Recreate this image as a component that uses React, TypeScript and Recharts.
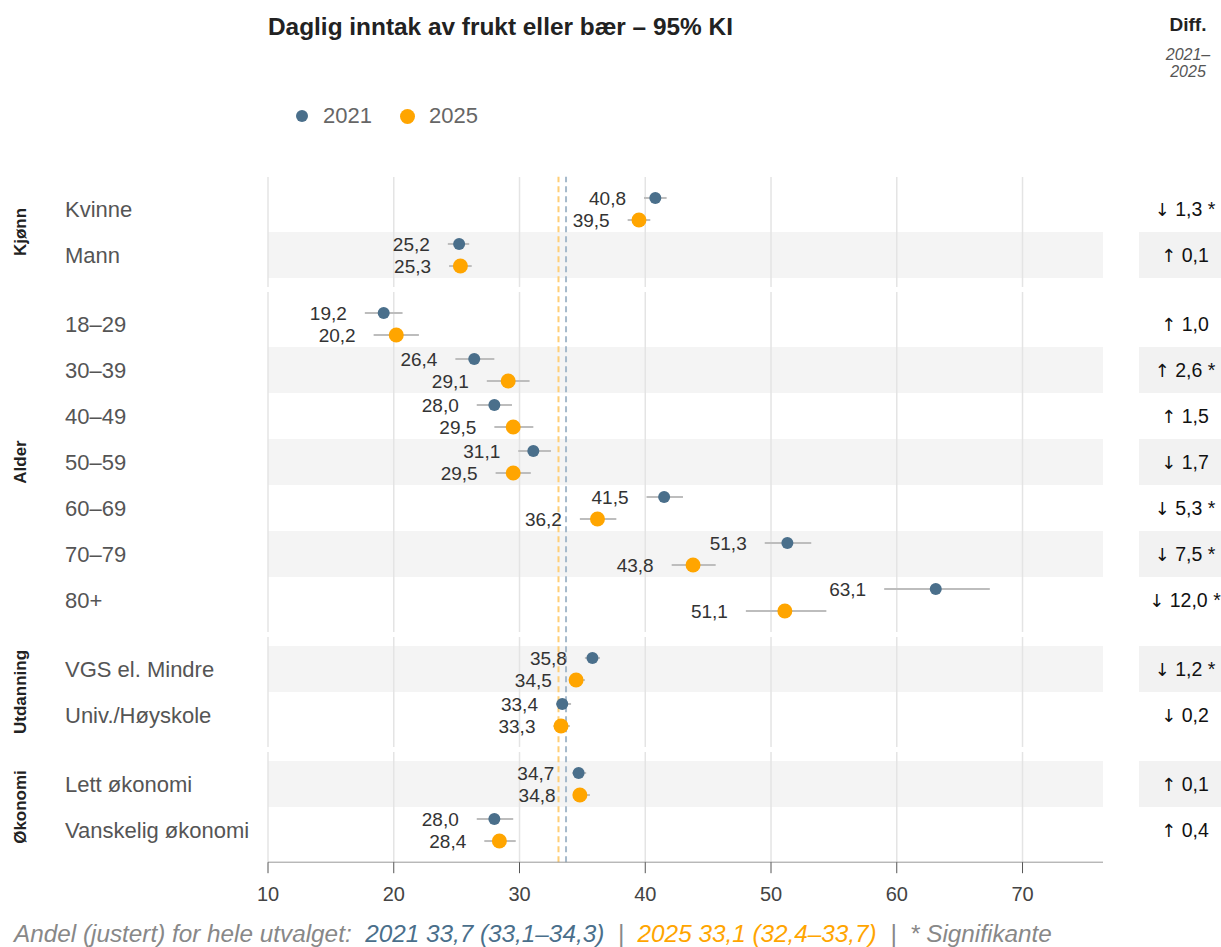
import React from 'react';
import {
  ScatterChart,
  Scatter,
  XAxis,
  YAxis,
  ErrorBar,
  ReferenceArea,
  ReferenceLine,
} from 'recharts';

const categories = [
  'Kvinne', 'Mann',
  '18–29', '30–39', '40–49', '50–59', '60–69', '70–79', '80+',
  'VGS el. Mindre', 'Univ./Høyskole',
  'Lett økonomi', 'Vanskelig økonomi',
];
const groups = [
  'Kjønn', 'Kjønn',
  'Alder', 'Alder', 'Alder', 'Alder', 'Alder', 'Alder', 'Alder',
  'Utdanning', 'Utdanning',
  'Økonomi', 'Økonomi',
];

const values2021 = [40.8, 25.2, 19.2, 26.4, 28.0, 31.1, 41.5, 51.3, 63.1, 35.8, 33.4, 34.7, 28.0];
const low2021 = [39.9, 24.3, 17.7, 24.9, 26.6, 29.9, 40.1, 49.5, 59.0, 35.2, 32.9, 34.2, 26.6];
const high2021 = [41.7, 26.0, 20.7, 28.0, 29.4, 32.5, 43.0, 53.2, 67.4, 36.4, 34.1, 35.3, 29.5];

const values2025 = [39.5, 25.3, 20.2, 29.1, 29.5, 29.5, 36.2, 43.8, 51.1, 34.5, 33.3, 34.8, 28.4];
const low2025 = [38.6, 24.4, 18.4, 27.4, 28.0, 28.1, 34.8, 42.1, 48.0, 34.0, 32.7, 34.3, 27.2];
const high2025 = [40.4, 26.2, 22.0, 30.8, 31.1, 30.9, 37.7, 45.6, 54.4, 35.2, 34.0, 35.6, 29.7];

const diffs = [-1.3, 0.1, 1.0, 2.6, 1.5, -1.7, -5.3, -7.5, -12.0, -1.2, -0.2, 0.1, 0.4];
const significant = [true, false, false, true, false, false, true, true, true, true, false, false, false];

const xTicks = [10, 20, 30, 40, 50, 60, 70];
const overall2021 = 33.7;
const overall2025 = 33.1;

const C2021 = '#4a6f8b';
const C2025 = '#FFA500';
const FONT = '"Liberation Sans", Arial, Helvetica, sans-serif';

const X_MAX = 76.4;
const Y_MIN = -0.7;
const Y_MAX = 14.2;
const DOT_OFFSET = 0.24;

// row positions: 1 per row, an extra half row between groups
const rowPos: number[] = [];
categories.forEach((_, i) => {
  if (i === 0) rowPos.push(0);
  else rowPos.push(rowPos[i - 1] + (groups[i] === groups[i - 1] ? 1 : 1.5));
});

const groupNames = Array.from(new Set(groups));
const groupSpans = groupNames.map((g) => {
  const ps = rowPos.filter((_, i) => groups[i] === g);
  return { name: g, from: ps[0], to: ps[ps.length - 1], mid: (ps[0] + ps[ps.length - 1]) / 2 };
});

const fmt = (v: number) => v.toFixed(1).replace('.', ',');

const dots2021 = categories.map((c, i) => ({
  x: values2021[i],
  y: rowPos[i] - DOT_OFFSET,
  err: [values2021[i] - low2021[i], high2021[i] - values2021[i]],
}));
const dots2025 = categories.map((c, i) => ({
  x: values2025[i],
  y: rowPos[i] + DOT_OFFSET,
  err: [values2025[i] - low2025[i], high2025[i] - values2025[i]],
}));
const labels2021 = categories.map((c, i) => ({ x: low2021[i], y: rowPos[i] - DOT_OFFSET, label: fmt(values2021[i]) }));
const labels2025 = categories.map((c, i) => ({ x: low2025[i], y: rowPos[i] + DOT_OFFSET, label: fmt(values2025[i]) }));

const leftTicks = Array.from(new Set([...rowPos, ...groupSpans.map((g) => g.mid)])).sort((a, b) => a - b);

const LeftTick = (props: any) => {
  const { x, y, payload } = props;
  const v = payload.value;
  const rowIdx = rowPos.indexOf(v);
  const grp = groupSpans.find((g) => g.mid === v);
  return (
    <g>
      {rowIdx >= 0 && (
        <text x={x - 203} y={y} dy="0.35em" fontSize={22} fill="#555" fontFamily={FONT}>
          {categories[rowIdx]}
        </text>
      )}
      {grp && (
        <text
          x={x - 248}
          y={y}
          transform={`rotate(-90, ${x - 248}, ${y})`}
          textAnchor="middle"
          dy="0.35em"
          fontSize={17}
          fontWeight="bold"
          fill="#222"
          fontFamily={FONT}
        >
          {grp.name}
        </text>
      )}
    </g>
  );
};

const RightTick = (props: any) => {
  const { x, y, payload } = props;
  const i = rowPos.indexOf(payload.value);
  if (i < 0) return null;
  const d = diffs[i];
  return (
    <g>
      {i % 2 === 1 && <rect x={x + 36} y={y - 23} width={90} height={46} fill="#f2f2f2" />}
      <text x={x + 82} y={y} dy="0.35em" textAnchor="middle" fontSize={19.5} fill="#111" fontFamily={FONT}>
        <tspan fontFamily='"DejaVu Sans", sans-serif' fontSize={18}>{d < 0 ? '↓' : '↑'}</tspan>
        {` ${fmt(Math.abs(d))}${significant[i] ? ' *' : ''}`}
      </text>
    </g>
  );
};

const Dot = (color: string, r: number) => (p: any) => <circle cx={p.cx} cy={p.cy} r={r} fill={color} />;
const Label = (p: any) => (
  <text x={p.cx - 18} y={p.cy} dy="0.35em" textAnchor="end" fontSize={19} fill="#333" fontFamily={FONT}>
    {p.payload.label}
  </text>
);

export default function App() {
  return (
    <div style={{ position: 'absolute', left: 0, top: 0, width: 1221, height: 947, background: '#fff', fontFamily: FONT, overflow: 'hidden' }}>
      <div style={{ position: 'absolute', left: 268, top: 13, fontSize: 24.4, fontWeight: 'bold', color: '#222', whiteSpace: 'nowrap' }}>
        Daglig inntak av frukt eller bær – 95% KI
      </div>
      <div style={{ position: 'absolute', left: 296, top: 103, display: 'flex', alignItems: 'center', fontSize: 22, color: '#666' }}>
        <span style={{ width: 12, height: 12, borderRadius: 6, background: C2021, display: 'inline-block' }} />
        <span style={{ marginLeft: 15 }}>2021</span>
        <span style={{ width: 15, height: 15, borderRadius: 8, background: C2025, display: 'inline-block', marginLeft: 28 }} />
        <span style={{ marginLeft: 14 }}>2025</span>
      </div>
      <div style={{ position: 'absolute', left: 1148, width: 80, top: 14, textAlign: 'center', color: '#222' }}>
        <div style={{ fontSize: 19, fontWeight: 'bold' }}>Diff.</div>
        <div style={{ fontSize: 16, fontStyle: 'italic', color: '#555', marginTop: 10, lineHeight: '17px' }}>
          2021–
          <br />
          2025
        </div>
      </div>

      <ScatterChart width={1221} height={947} margin={{ top: 176.8, right: 0, bottom: 44.8, left: 0 }}>
        <XAxis
          type="number"
          dataKey="x"
          domain={[10, X_MAX]}
          ticks={xTicks}
          allowDataOverflow
          height={40}
          stroke="#999"
          tickSize={11}
          tickMargin={14}
          tick={{ fontSize: 20, fill: '#444', fontFamily: FONT }}
          tickLine={{ stroke: '#555' }}
        />
        <YAxis
          yAxisId="left"
          type="number"
          dataKey="y"
          domain={[Y_MIN, Y_MAX]}
          reversed
          allowDataOverflow
          ticks={leftTicks}
          interval={0}
          width={268}
          axisLine={false}
          tickLine={false}
          tickSize={0}
          tickMargin={0}
          tick={<LeftTick />}
        />
        <YAxis
          yAxisId="right"
          orientation="right"
          type="number"
          dataKey="y"
          domain={[Y_MIN, Y_MAX]}
          reversed
          allowDataOverflow
          ticks={rowPos}
          interval={0}
          width={118}
          axisLine={false}
          tickLine={false}
          tickSize={0}
          tickMargin={0}
          tick={<RightTick />}
        />

        {rowPos.map((p, i) =>
          i % 2 === 1 ? (
            <ReferenceArea key={`band-${i}`} yAxisId="left" x1={10} x2={X_MAX} y1={p - 0.5} y2={p + 0.5} fill="#f4f4f4" fillOpacity={1} stroke="none" />
          ) : null
        )}
        {groupSpans.map((g) =>
          xTicks.map((t) => (
            <ReferenceLine
              key={`grid-${g.name}-${t}`}
              yAxisId="left"
              segment={[{ x: t, y: g.from - 0.695 }, { x: t, y: g.to + 0.695 }]}
              stroke="#e4e4e4"
              strokeWidth={1.5}
            />
          ))
        )}
        <ReferenceLine yAxisId="left" x={overall2025} stroke="#ffce75" strokeWidth={2} strokeDasharray="6 4" />
        <ReferenceLine yAxisId="left" x={overall2021} stroke="#a6bacb" strokeWidth={2} strokeDasharray="6 4" />

        <Scatter yAxisId="left" data={dots2021} shape={Dot(C2021, 6)} isAnimationActive={false}>
          <ErrorBar dataKey="err" direction="x" width={0} stroke="#bdbdbd" strokeWidth={2} />
        </Scatter>
        <Scatter yAxisId="left" data={dots2025} shape={Dot(C2025, 7.5)} isAnimationActive={false}>
          <ErrorBar dataKey="err" direction="x" width={0} stroke="#bdbdbd" strokeWidth={2} />
        </Scatter>
        <Scatter yAxisId="left" data={labels2021} shape={Label} isAnimationActive={false} />
        <Scatter yAxisId="left" data={labels2025} shape={Label} isAnimationActive={false} />
      </ScatterChart>

      <div style={{ position: 'absolute', left: 14, top: 922, fontSize: 24.3, lineHeight: '24px', fontStyle: 'italic', color: '#888', whiteSpace: 'pre' }}>
        {'Andel (justert) for hele utvalget:  '}
        <span style={{ color: C2021 }}>2021 33,7 (33,1–34,3)</span>
        {'  |  '}
        <span style={{ color: C2025 }}>2025 33,1 (32,4–33,7)</span>
        {'  |  * Signifikante'}
      </div>
    </div>
  );
}
